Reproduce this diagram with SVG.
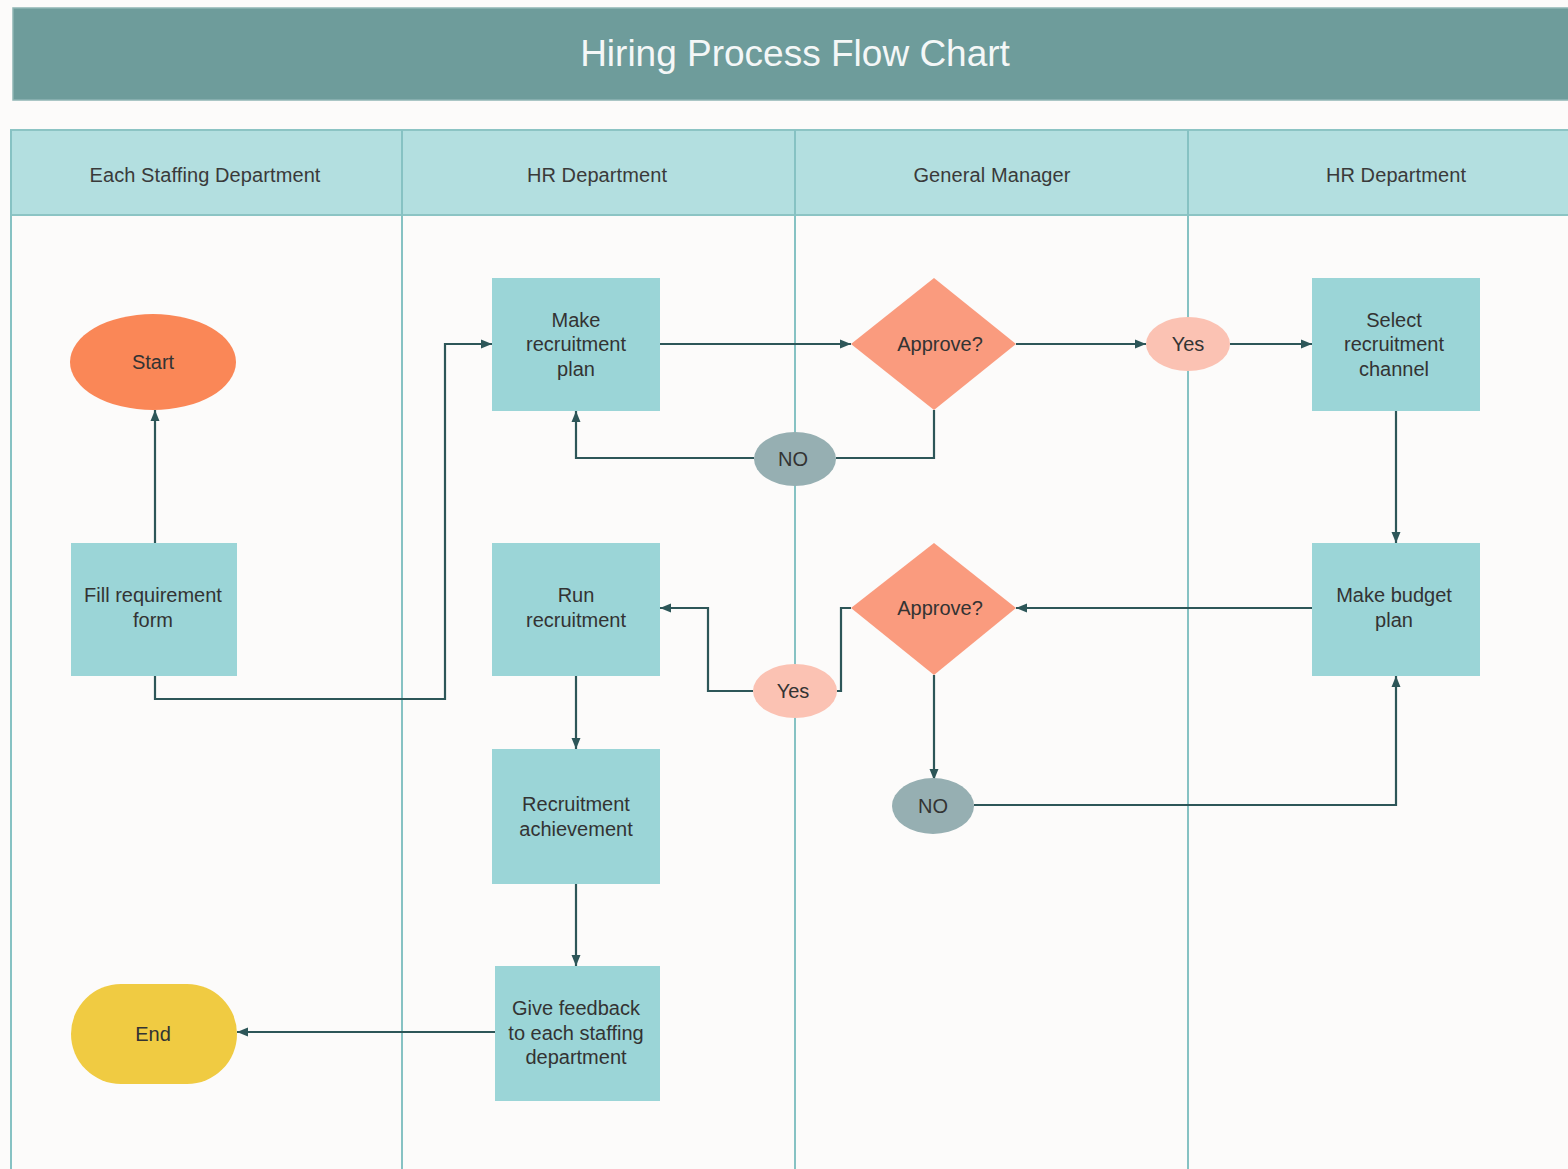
<svg xmlns="http://www.w3.org/2000/svg" width="1568" height="1169" viewBox="0 0 1568 1169">
<defs>
<marker id="arr" markerUnits="userSpaceOnUse" markerWidth="12" markerHeight="12" viewBox="0 0 12 12" refX="11" refY="6" orient="auto">
<path d="M0,1.5 L11,6 L0,10.5 z" fill="#2d5658"/>
</marker>
<style>
.lane{stroke:#86c2c3;stroke-width:2;fill:none}
.hdr{fill:#b3dfe0;stroke:#8cc4c4;stroke-width:2}
.ht{font-family:"Liberation Sans",Arial,sans-serif;font-size:20px;fill:#3a3a3a;text-anchor:middle;letter-spacing:0.1px}
.box{fill:#9bd5d7}
.t{font-family:"Liberation Sans",Arial,sans-serif;font-size:20px;fill:#333;text-anchor:middle;letter-spacing:0px}
.dia{fill:#fa9b7e}
.yes{fill:#fbc2b3}
.no{fill:#96afb2}
.c{fill:none;stroke:#2d5658;stroke-width:2.2}
.ca{fill:none;stroke:#2d5658;stroke-width:2.2;marker-end:url(#arr)}
</style>
</defs>
<rect width="1568" height="1169" fill="#fcfbfa"/>
<g id="title">
<rect x="13" y="8" width="1560" height="92" fill="#6e9c9b" stroke="#8fb5b4" stroke-width="1.5"/>
<text x="795" y="66" font-family="'Liberation Sans',Arial,sans-serif" font-size="37" fill="#f4f7f7" text-anchor="middle">Hiring Process Flow Chart</text>
</g>
<g id="lanes">
<rect class="hdr" x="11" y="130" width="1570" height="85"/>
<line class="lane" x1="11" y1="130" x2="11" y2="1169"/>
<line class="lane" x1="402" y1="130" x2="402" y2="1169"/>
<line class="lane" x1="795" y1="130" x2="795" y2="1169"/>
<line class="lane" x1="1188" y1="130" x2="1188" y2="1169"/>
<text class="ht" x="205" y="182">Each Staffing Department</text>
<text class="ht" x="597" y="182">HR Department</text>
<text class="ht" x="992" y="182">General Manager</text>
<text class="ht" x="1396" y="182">HR Department</text>
</g>
<g id="connectors">
<path class="ca" d="M155,543 V410"/>
<path class="ca" d="M155,676 V699 H445 V344 H492"/>
<path class="ca" d="M660,344 H851"/>
<path class="ca" d="M1016,344 H1146"/>
<path class="ca" d="M1230,344 H1312"/>
<path class="c" d="M934,410 V458 H836"/>
<path class="ca" d="M754,458 H576 V411"/>
<path class="ca" d="M1396,411 V543"/>
<path class="ca" d="M1312,608 H1016"/>
<path class="c" d="M851,608 H841 V691 H837"/>
<path class="ca" d="M753,691 H708 V608 H660"/>
<path class="ca" d="M934,675 V780"/>
<path class="ca" d="M974,805 H1396 V676"/>
<path class="ca" d="M576,676 V749"/>
<path class="ca" d="M576,884 V966"/>
<path class="ca" d="M495,1032 H237"/>
</g>
<g id="start">
<ellipse cx="153" cy="362" rx="83" ry="48" fill="#fa8757"/>
<text class="t" x="153" y="369">Start</text>
</g>
<g id="fill-form">
<rect class="box" x="71" y="543" width="166" height="133"/>
<text class="t" x="153" y="602">Fill requirement</text>
<text class="t" x="153" y="627">form</text>
</g>
<g id="make-plan">
<rect class="box" x="492" y="278" width="168" height="133"/>
<text class="t" x="576" y="327">Make</text>
<text class="t" x="576" y="351">recruitment</text>
<text class="t" x="576" y="376">plan</text>
</g>
<g id="approve1">
<polygon class="dia" points="934,278 1016,344 934,410 851,344"/>
<text class="t" x="940" y="351">Approve?</text>
</g>
<g id="yes1">
<ellipse class="yes" cx="1188" cy="344" rx="42" ry="27"/>
<text class="t" x="1188" y="351">Yes</text>
</g>
<g id="select-channel">
<rect class="box" x="1312" y="278" width="168" height="133"/>
<text class="t" x="1394" y="327">Select</text>
<text class="t" x="1394" y="351">recruitment</text>
<text class="t" x="1394" y="376">channel</text>
</g>
<g id="no1">
<ellipse class="no" cx="795" cy="459" rx="41" ry="27"/>
<text class="t" x="793" y="466">NO</text>
</g>
<g id="run-recruitment">
<rect class="box" x="492" y="543" width="168" height="133"/>
<text class="t" x="576" y="602">Run</text>
<text class="t" x="576" y="627">recruitment</text>
</g>
<g id="approve2">
<polygon class="dia" points="934,543 1016,608 934,675 851,608"/>
<text class="t" x="940" y="615">Approve?</text>
</g>
<g id="budget-plan">
<rect class="box" x="1312" y="543" width="168" height="133"/>
<text class="t" x="1394" y="602">Make budget</text>
<text class="t" x="1394" y="627">plan</text>
</g>
<g id="yes2">
<ellipse class="yes" cx="795" cy="691" rx="42" ry="27"/>
<text class="t" x="793" y="698">Yes</text>
</g>
<g id="no2">
<ellipse class="no" cx="933" cy="806" rx="41" ry="28"/>
<text class="t" x="933" y="813">NO</text>
</g>
<g id="achievement">
<rect class="box" x="492" y="749" width="168" height="135"/>
<text class="t" x="576" y="811">Recruitment</text>
<text class="t" x="576" y="836">achievement</text>
</g>
<g id="feedback">
<rect class="box" x="495" y="966" width="165" height="135"/>
<text class="t" x="576" y="1015">Give feedback</text>
<text class="t" x="576" y="1040">to each staffing</text>
<text class="t" x="576" y="1064">department</text>
</g>
<g id="end">
<rect x="71" y="984" width="166" height="100" rx="50" fill="#f0cb42"/>
<text class="t" x="153" y="1041">End</text>
</g>
</svg>
